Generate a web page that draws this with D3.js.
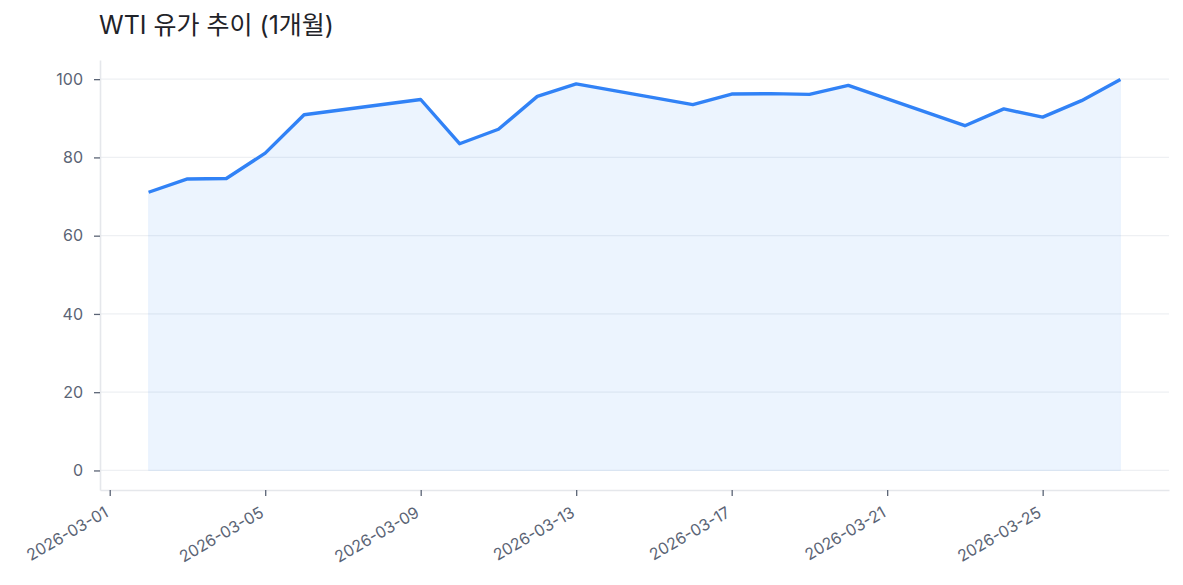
<!DOCTYPE html>
<html lang="ko">
<head>
  <meta charset="UTF-8">
  <title>WTI 유가 추이 (1개월)</title>
  <script src="https://d3js.org/d3.v7.min.js"></script>
  <style>
    body {
      margin: 0;
      padding: 0;
      background: #ffffff;
      font-family: Inter, "Noto Sans CJK KR", sans-serif;
    }
  </style>
</head>
<body>
  <div id="chart"></div>

  <script>
    // 거래일 (주말 제외)
    const dates = [
      "2026-03-02", "2026-03-03", "2026-03-04", "2026-03-05", "2026-03-06",
      "2026-03-09", "2026-03-10", "2026-03-11", "2026-03-12", "2026-03-13",
      "2026-03-16", "2026-03-17", "2026-03-18", "2026-03-19", "2026-03-20",
      "2026-03-23", "2026-03-24", "2026-03-25", "2026-03-26", "2026-03-27"
    ];
    // WTI 종가 (USD/bbl)
    const prices = [
      71.1, 74.5, 74.6, 81.1, 90.9,
      94.8, 83.5, 87.2, 95.6, 98.8,
      93.5, 96.2, 96.3, 96.1, 98.4,
      88.1, 92.4, 90.3, 94.5, 99.9
    ];
    const xTickLabels = [
      "2026-03-01", "2026-03-05", "2026-03-09", "2026-03-13",
      "2026-03-17", "2026-03-21", "2026-03-25"
    ];
    const yTicks = [0, 20, 40, 60, 80, 100];

    const width = 1183;
    const height = 585;
    const margin = { top: 60, right: 14, bottom: 95, left: 100 };
    const fontFamily = 'Inter, "Noto Sans CJK KR", sans-serif';

    const parse = d3.timeParse("%Y-%m-%d");
    const data = dates.map((d, i) => ({ date: parse(d), value: prices[i] }));

    const svg = d3.select("#chart")
      .append("svg")
      .attr("width", width)
      .attr("height", height);

    // 제목
    svg.append("text")
      .attr("x", 99)
      .attr("y", 34)
      .attr("fill", "#1f2329")
      .attr("font-family", fontFamily)
      .style("font-size", "25px")
      .text("WTI 유가 추이 (1개월)");

    // x 도메인: 데이터 범위의 5% 여백
    const first = data[0].date, last = data[data.length - 1].date;
    const span = last - first;
    const x = d3.scaleTime()
      .domain([new Date(+first - span * 0.05), new Date(+last + span * 0.05)])
      .range([margin.left, width - margin.right]);

    const yMax = d3.max(prices);
    const y = d3.scaleLinear()
      .domain([-yMax * 0.05, yMax * 1.05])
      .range([height - margin.bottom, margin.top]);

    // 그리드
    svg.append("g")
      .selectAll("line")
      .data(yTicks)
      .join("line")
      .attr("x1", margin.left)
      .attr("x2", width - margin.right)
      .attr("y1", d => y(d))
      .attr("y2", d => y(d))
      .attr("stroke", "#eef0f3")
      .attr("stroke-width", 1.2);

    // 영역
    const area = d3.area()
      .x(d => x(d.date))
      .y0(y(0))
      .y1(d => y(d.value));

    svg.append("path")
      .datum(data)
      .attr("d", area)
      .attr("fill", "#3182f6")
      .attr("fill-opacity", 0.09)
      .attr("stroke", "#3182f6")
      .attr("stroke-opacity", 0.06)
      .attr("stroke-width", 1);

    // 선
    const line = d3.line()
      .x(d => x(d.date))
      .y(d => y(d.value));

    svg.append("path")
      .datum(data)
      .attr("d", line)
      .attr("fill", "none")
      .attr("stroke", "#3182f6")
      .attr("stroke-width", 3.4)
      .attr("stroke-linejoin", "round");

    // y 축
    const yAxis = svg.append("g")
      .attr("transform", `translate(${margin.left},0)`)
      .call(d3.axisLeft(y).tickValues(yTicks).tickSizeInner(6).tickSizeOuter(0).tickPadding(11))
      .attr("font-family", fontFamily)
      .attr("font-size", 16);
    yAxis.select(".domain")
      .attr("stroke", "#e5e7eb")
      .attr("stroke-width", 1.6);
    yAxis.selectAll(".tick line")
      .attr("stroke", "#5b6475")
      .attr("stroke-width", 1.3);
    yAxis.selectAll(".tick text")
      .attr("fill", "#5b6475");

    // x 축
    const xAxis = svg.append("g")
      .attr("transform", `translate(0,${height - margin.bottom})`)
      .call(d3.axisBottom(x)
        .tickValues(xTickLabels.map(parse))
        .tickFormat(d3.timeFormat("%Y-%m-%d"))
        .tickSizeInner(6)
        .tickSizeOuter(0))
      .attr("font-family", fontFamily)
      .attr("font-size", 16);
    xAxis.select(".domain")
      .attr("stroke", "#e5e7eb")
      .attr("stroke-width", 1.6);
    xAxis.selectAll(".tick line")
      .attr("stroke", "#5b6475")
      .attr("stroke-width", 1.3);
    xAxis.selectAll(".tick text")
      .attr("fill", "#5b6475")
      .attr("text-anchor", "end")
      .attr("dy", "0")
      .attr("y", 0)
      .attr("transform", "translate(-3,22) rotate(-30)")
      .attr("dominant-baseline", "middle");
  </script>
</body>
</html>
